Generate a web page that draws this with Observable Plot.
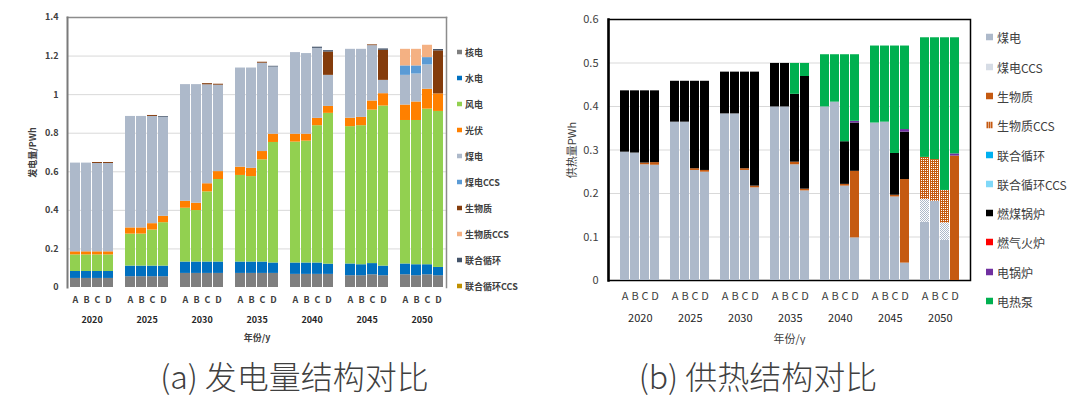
<!DOCTYPE html>
<html><head><meta charset="utf-8">
<script src="https://cdn.jsdelivr.net/npm/d3@7"></script>
<script src="https://cdn.jsdelivr.net/npm/@observablehq/plot@0.6"></script>
<style>
body{margin:0;background:#fff;}
#wrap{position:relative;width:1090px;height:397px;overflow:hidden;font-family:"Noto Sans CJK SC","Noto Sans",sans-serif;}
.panel{position:absolute;top:0;}
.item{position:absolute;white-space:nowrap;display:flex;align-items:center;transform:translateY(-50%);}
.item svg{display:block;}
.caption{position:absolute;top:355px;line-height:40px;font-size:32px;font-weight:300;color:#404040;transform:translateX(-50%);white-space:nowrap;}
</style></head>
<body><div id="wrap"></div>
<script>
// ---------- data ----------
const years = ["2020","2025","2030","2035","2040","2045","2050"];
const scenarios = ["A","B","C","D"];

// (a) power generation, PWh, order: 2020 A-D, 2025 A-D, ... 2050 A-D
const powerSeries = ["核电","水电","风电","光伏","煤电","煤电CCS","生物质","生物质CCS","联合循环","联合循环CCS"];
const powerColors = ["#7f7f7f","#0070c0","#92d050","#ff8000","#adb9ca","#5b9bd5","#843c0c","#f4b183","#44546a","#bf9000"];
const nuclear = [0.047,0.047,0.047,0.047, 0.056,0.056,0.056,0.056, 0.073,0.073,0.073,0.073, 0.073,0.073,0.073,0.073, 0.068,0.068,0.068,0.068, 0.061,0.061,0.066,0.061, 0.066,0.061,0.066,0.061];
const hydro = [0.036,0.036,0.036,0.036, 0.055,0.055,0.055,0.055, 0.059,0.059,0.059,0.059, 0.059,0.059,0.059,0.054, 0.059,0.059,0.059,0.053, 0.061,0.057,0.058,0.050, 0.056,0.057,0.052,0.043];
const wind = [0.086,0.086,0.086,0.086, 0.166,0.166,0.187,0.225, 0.279,0.267,0.364,0.428, 0.449,0.443,0.530,0.625, 0.627,0.632,0.712,0.782, 0.712,0.721,0.796,0.830, 0.744,0.748,0.807,0.809];
const solar = [0.016,0.016,0.016,0.016, 0.032,0.032,0.033,0.033, 0.036,0.038,0.042,0.041, 0.043,0.043,0.043,0.043, 0.041,0.036,0.038,0.036, 0.044,0.043,0.047,0.064, 0.080,0.096,0.103,0.091];
const coal = [0.460,0.460,0.458,0.458, 0.578,0.578,0.556,0.513, 0.605,0.615,0.513,0.448, 0.514,0.520,0.458,0.348, 0.423,0.418,0.363,0.161, 0.357,0.353,0.287,0.069, 0.154,0.145,0.126,0];
const coalCCS = [0,0,0,0, 0,0,0,0, 0,0,0,0, 0,0,0,0, 0,0,0,0, 0,0,0,0, 0.049,0.042,0.038,0];
const biomass = [0,0,0.005,0.005, 0,0,0.005,0, 0,0,0.006,0.005, 0,0,0.005,0, 0,0,0,0.121, 0,0,0.004,0.156, 0,0,0,0.223];
const biomassCCS = [0,0,0,0, 0,0,0,0, 0,0,0,0, 0,0,0,0, 0,0,0,0, 0,0,0,0, 0.086,0.086,0.064,0];
const combined = [0,0,0,0, 0,0,0,0.004, 0,0,0,0, 0,0,0,0.004, 0,0,0.006,0.007, 0,0,0,0.007, 0,0,0,0.007];
const combinedCCS = [0,0,0,0, 0,0,0,0, 0,0,0,0, 0,0,0,0, 0,0,0,0, 0,0,0,0, 0,0,0,0];
const powerValues = [nuclear,hydro,wind,solar,coal,coalCCS,biomass,biomassCCS,combined,combinedCCS];

// (b) heat supply, PWh
const heatSeries = ["煤电","煤电CCS","生物质","生物质CCS","联合循环","联合循环CCS","燃煤锅炉","燃气火炉","电锅炉","电热泵"];
const heatColors = ["#adb9ca","url(#pCoalCCS)","#c55a11","url(#pBioCCS)","#00b0f0","url(#pCcCCS)","#000000","#ff0000","#7030a0","#00b050"];
const hCoal = [0.295,0.293,0.266,0.265, 0.364,0.364,0.253,0.249, 0.383,0.383,0.253,0.213, 0.399,0.399,0.266,0.206, 0.399,0.410,0.217,0.098, 0.362,0.364,0.192,0.040, 0.134,0.182,0.092,0];
const hCoalCCS = [0,0,0,0, 0,0,0,0, 0,0,0,0, 0,0,0,0, 0,0,0,0, 0,0,0,0, 0.052,0,0.040,0];
const hBiomass = [0,0,0.004,0.006, 0,0,0.004,0.004, 0,0,0.004,0.004, 0,0,0.006,0.004, 0,0,0.004,0.153, 0,0,0.004,0.192, 0,0,0,0.286];
const hBiomassCCS = [0,0,0,0, 0,0,0,0, 0,0,0,0, 0,0,0,0, 0,0,0,0, 0,0,0,0, 0.097,0.096,0.075,0];
const hCombined = [0,0,0,0, 0,0,0,0, 0,0,0,0, 0,0,0,0, 0,0,0,0, 0,0,0,0, 0,0,0,0];
const hCombinedCCS = [0,0,0,0, 0,0,0,0, 0,0,0,0, 0,0,0,0, 0,0,0,0, 0,0,0,0, 0,0,0,0];
const hCoalBoiler = [0.141,0.143,0.166,0.165, 0.094,0.094,0.201,0.205, 0.096,0.096,0.222,0.262, 0.100,0.100,0.156,0.259, 0,0,0.098,0.111, 0,0,0.096,0.109, 0,0,0,0];
const hGasFurnace = [0,0,0,0, 0,0,0,0, 0,0,0,0, 0,0,0,0, 0,0,0,0, 0,0,0,0, 0,0,0,0];
const hElecBoiler = [0,0,0,0, 0,0,0,0, 0,0,0,0, 0,0,0,0, 0,0,0,0.004, 0,0,0,0.006, 0,0,0,0.005];
const hHeatPump = [0,0,0,0, 0,0,0,0, 0,0,0,0, 0,0,0.071,0.030, 0.120,0.109,0.200,0.153, 0.177,0.175,0.247,0.192, 0.275,0.280,0.351,0.267];
const heatValues = [hCoal,hCoalCCS,hBiomass,hBiomassCCS,hCombined,hCombinedCCS,hCoalBoiler,hGasFurnace,hElecBoiler,hHeatPump];

const yTicksA = [0,0.2,0.4,0.6,0.8,1,1.2,1.4];
const yTicksB = [0,0.1,0.2,0.3,0.4,0.5,0.6];

// ---------- helpers ----------
const xKeys = [];
years.forEach((y,i)=>{ scenarios.forEach(s=>xKeys.push(y+s)); if(i<years.length-1) xKeys.push(y+"_"); });
const barKeys = xKeys.filter(k=>!k.endsWith("_"));
function tidy(series, values){
  const rows=[];
  barKeys.forEach((k,i)=>series.forEach((s,j)=>rows.push({key:k, series:s, value:values[j][i]})));
  return rows;
}
const rowsA = tidy(powerSeries, powerValues);
const rowsB = tidy(heatSeries, heatValues);
const FONT = '"Noto Sans CJK SC","Noto Sans",sans-serif';
const wrap = document.getElementById("wrap");

// ---------- panel (a) ----------
const A = {width:460, height:345, ml:67, mr:14, mt:17, mb:58, pin:0.1, pout:0.05};
const stepA = (A.width-A.ml-A.mr)/(xKeys.length - A.pin + 2*A.pout);
const plotA = Plot.plot({
  width:A.width, height:A.height, marginLeft:A.ml, marginRight:A.mr, marginTop:A.mt, marginBottom:A.mb,
  style:{fontFamily:FONT, fontSize:"9px", fontWeight:"600", color:"#404040", background:"transparent"},
  x:{type:"band", domain:xKeys, paddingInner:A.pin, paddingOuter:A.pout},
  y:{domain:[0,1.4]},
  color:{domain:powerSeries, range:powerColors},
  marks:[
    Plot.ruleY(yTicksA.filter(v=>v>0&&v<1.4), {stroke:"#d9d9d9", strokeWidth:1}),
    Plot.barY(rowsA, {x:"key", y:"value", fill:"series"}),
    Plot.frame({anchor:"top", stroke:"#8c8c8c", strokeWidth:1.5}),
    Plot.frame({anchor:"right", stroke:"#8c8c8c", strokeWidth:1.5}),
    Plot.frame({anchor:"left", stroke:"#7a7a7a", strokeWidth:2}),
    Plot.axisY({ticks:yTicksA, tickSize:0, tickPadding:9, tickFormat:d=>String(d), label:"发电量/PWh", labelArrow:false, labelAnchor:"center", labelOffset:38}),
    Plot.axisX({ticks:barKeys, tickSize:0, tickPadding:9, tickFormat:k=>k.slice(-1), label:"年份/y", labelArrow:false, labelAnchor:"center", labelOffset:53}),
    Plot.text(years, {x:d=>d+"B", text:d=>d, frameAnchor:"bottom", dy:35, dx:stepA/2, fill:"#262626"})
  ]
});
plotA.classList.add("panel");
plotA.style.left = "0px";
wrap.appendChild(plotA);

// ---------- panel (b) ----------
const B = {left:545, width:440, height:345, ml:63, mr:15, mt:19, mb:65, pin:0.13, pout:0.06};
const stepB = (B.width-B.ml-B.mr)/(xKeys.length - B.pin + 2*B.pout);
const plotB = Plot.plot({
  width:B.width, height:B.height, marginLeft:B.ml, marginRight:B.mr, marginTop:B.mt, marginBottom:B.mb,
  style:{fontFamily:FONT, fontSize:"11px", color:"#404040", background:"transparent"},
  x:{type:"band", domain:xKeys, paddingInner:B.pin, paddingOuter:B.pout},
  y:{domain:[0,0.6]},
  color:{domain:heatSeries, range:heatColors},
  marks:[
    Plot.ruleY(yTicksB.filter(v=>v>0&&v<0.6), {stroke:"#d9d9d9", strokeWidth:1}),
    Plot.frame({stroke:"#000", strokeWidth:1.5}),
    Plot.barY(rowsB, {x:"key", y:"value", fill:"series"}),
    Plot.frame({anchor:"left", stroke:"#000", strokeWidth:2.5}),
    Plot.axisY({ticks:yTicksB, tickSize:0, tickPadding:10, tickFormat:d=>String(d), label:"供热量PWh", labelArrow:false, labelAnchor:"center", labelOffset:40}),
    Plot.axisX({ticks:barKeys, tickSize:0, tickPadding:12, tickFormat:k=>k.slice(-1), label:"年份/y", labelArrow:false, labelAnchor:"center", labelOffset:62}),
    Plot.text(years, {x:d=>d+"B", text:d=>d, frameAnchor:"bottom", dy:41, dx:stepB/2, fill:"#262626"})
  ]
});
plotB.classList.add("panel");
plotB.style.left = B.left+"px";
const defs = document.createElementNS("http://www.w3.org/2000/svg","defs");
function pat(id,color,cells,size){
  return `<pattern id="${id}" width="${size}" height="${size}" patternUnits="userSpaceOnUse"><rect width="${size}" height="${size}" fill="${color}"/>`+
    cells.map(([x,y])=>`<rect x="${x}" y="${y}" width="1" height="1" fill="#fff"/>`).join("")+`</pattern>`;
}
defs.innerHTML = pat("pCoalCCS","#adb9ca",[[0,0],[1,1]],2) + pat("pBioCCS","#c55a11",[[0,0],[2,2],[2,0],[0,2]],4) + pat("pCcCCS","#00b0f0",[[0,0],[1,1]],2);
plotB.insertBefore(defs, plotB.firstChild);
wrap.appendChild(plotB);

// ---------- legends ----------
function legend(series, colors, x, y0, dy, sw, fs, weight, gap){
  series.forEach((s,i)=>{
    const d = document.createElement("div");
    d.className="item";
    d.style.left = x+"px"; d.style.top = (y0+i*dy)+"px";
    d.style.fontSize = fs+"px"; d.style.fontWeight = weight; d.style.color="#404040";
    d.innerHTML = `<svg width="${sw}" height="${sw}" style="margin-right:${gap}px"><rect width="${sw}" height="${sw}" fill="${colors[i]}"/></svg><span>${s}</span>`;
    wrap.appendChild(d);
  });
}
legend(powerSeries, powerColors, 457, 52.3, 26.0, 5, 9, 600, 3);
legend(heatSeries, heatColors, 986, 37.3, 29.3, 7, 12, 400, 4);

// ---------- captions ----------
[["(a) 发电量结构对比",294.5],["(b) 供热结构对比",758]].forEach(([t,cx])=>{
  const c=document.createElement("div"); c.className="caption"; c.textContent=t; c.style.left=cx+"px"; wrap.appendChild(c);
});
</script></body></html>
